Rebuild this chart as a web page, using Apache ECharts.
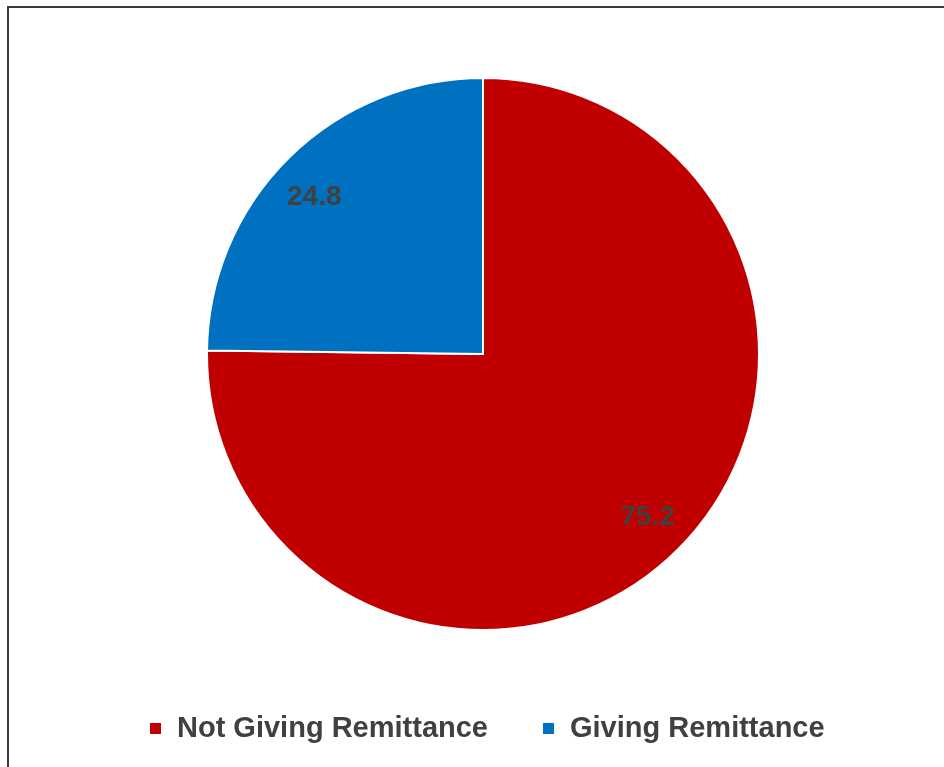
<!DOCTYPE html>
<html><head><meta charset="utf-8">
<script src="https://cdn.jsdelivr.net/npm/echarts@6/dist/echarts.min.js"></script>
<style>html,body{margin:0;padding:0;background:#fff}#c{width:944px;height:767px}</style>
</head><body><div id="c"></div>
<script>
const categories = ['Not Giving Remittance', 'Giving Remittance'];
const values = [75.2, 24.8];
const colors = ['#C00000', '#0070C0'];

const data = categories.map((n, i) => ({ name: n, value: values[i], itemStyle: { color: colors[i] } }));
const chart = echarts.init(document.getElementById('c'));
const font = '"Liberation Sans", "Noto Sans", sans-serif';
const labelShift = [[1, -3], [-5, 9]];
chart.setOption({
  animation: false,
  graphic: [{ type: 'rect', shape: { x: 8, y: 7, width: 960, height: 800 }, style: { fill: 'none', stroke: '#3a3a3a', lineWidth: 2 }, silent: true }],
  legend: {
    data: categories, bottom: 19, left: 143, itemWidth: 13, itemHeight: 13, itemGap: 53,
    icon: 'rect',
    textStyle: { fontSize: 29, fontWeight: 'bold', color: '#404040', fontFamily: font, padding: [0, 0, 0, 10] }
  },
  series: [
    {
      type: 'pie', center: [483, 354], radius: [0, 276], startAngle: 90, clockwise: true,
      itemStyle: { borderColor: '#fff', borderWidth: 2 },
      label: { show: false }, labelLine: { show: false },
      data: data
    },
    {
      type: 'pie', center: [483, 354], radius: [184, 276], startAngle: 90, clockwise: true, silent: true,
      itemStyle: { color: 'rgba(0,0,0,0)', borderWidth: 0 },
      label: { show: true, position: 'inside', formatter: p => p.value.toFixed(1), fontSize: 28, fontWeight: 'bold', color: '#404040', fontFamily: font },
      labelLine: { show: false },
      data: categories.map((n, i) => ({ name: n, value: values[i], label: { offset: labelShift[i] } }))
    }
  ]
});
</script></body></html>
